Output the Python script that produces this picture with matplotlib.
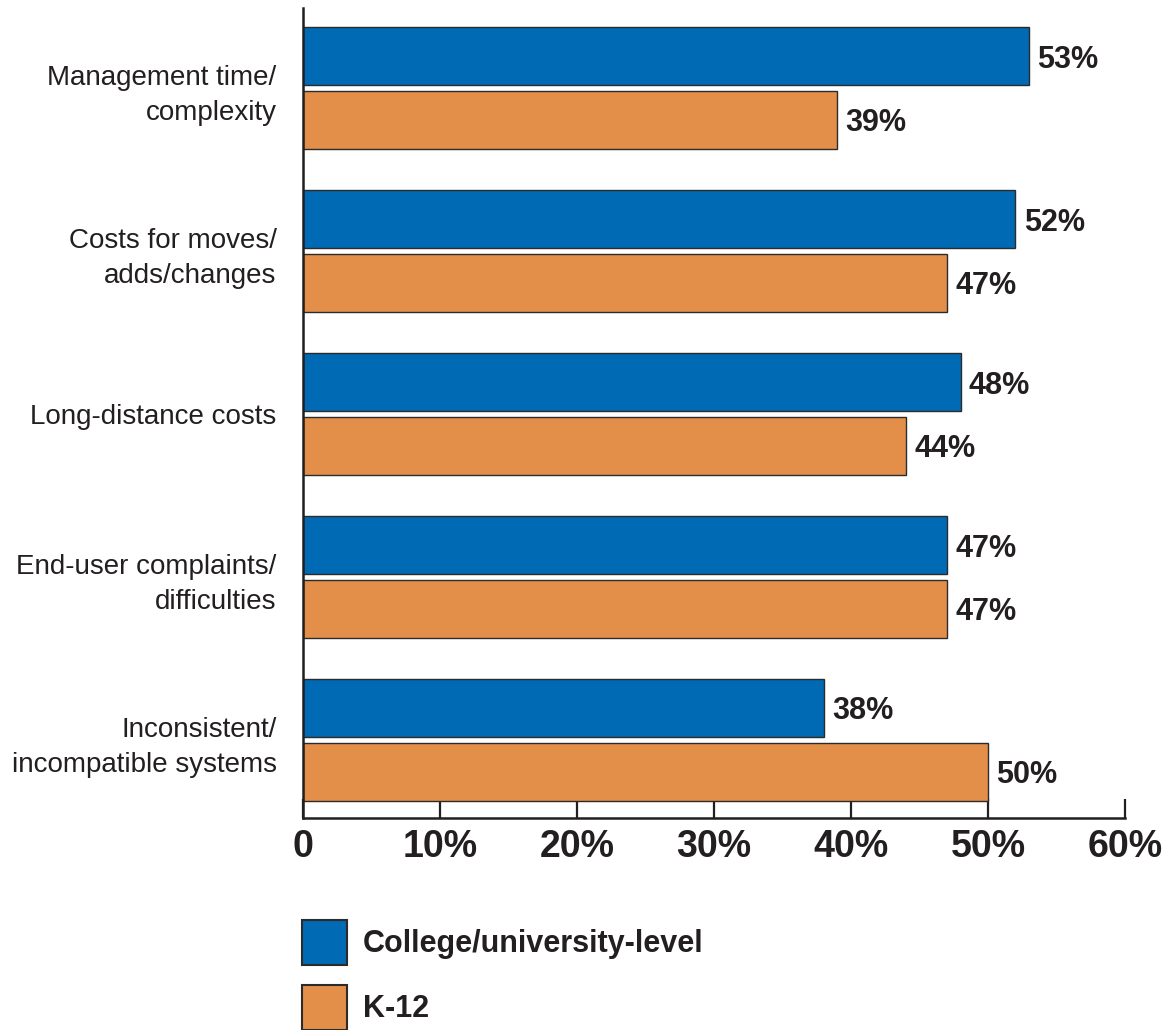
import matplotlib
matplotlib.use("Agg")
import matplotlib.pyplot as plt
from matplotlib.patches import Rectangle

categories = ["Management time/\ncomplexity", "Costs for moves/\nadds/changes",
              "Long-distance costs", "End-user complaints/\ndifficulties",
              "Inconsistent/\nincompatible systems"]
college = [53, 52, 48, 47, 38]
k12 = [39, 47, 44, 47, 50]
xticks = [0, 10, 20, 30, 40, 50, 60]
xticklabels = ["0", "10%", "20%", "30%", "40%", "50%", "60%"]
series_names = ["College/university-level", "K-12"]

blue = "#006AB5"
orange = "#E38F4A"
ink = "#231F20"

plt.rcParams["font.family"] = ["Liberation Sans", "DejaVu Sans"]

fig = plt.figure(figsize=(11.74, 10.30), dpi=100)
W, H = 1174, 1030
ax = fig.add_axes([303 / W, 1 - 818 / H, (1125 - 303) / W, (818 - 8) / H])

pos = list(range(len(categories)))
h = 0.356
off = 0.196
ax.barh([p - off for p in pos], college, height=h, color=blue,
        edgecolor="#2b2b2b", linewidth=1.0, zorder=2)
ax.barh([p + off for p in pos], k12, height=h, color=orange,
        edgecolor="#2b2b2b", linewidth=1.0, zorder=2)

for p, v in zip(pos, college):
    ax.text(v + 0.6, p - off, f"{v}%", va="center_baseline", ha="left",
            fontsize=22, fontweight="bold", color=ink)
for p, v in zip(pos, k12):
    ax.text(v + 0.6, p + off, f"{v}%", va="center_baseline", ha="left",
            fontsize=22, fontweight="bold", color=ink)

ax.set_xlim(0, 60)
ax.set_ylim(4 + 0.479, -0.491)
ax.set_xticks(xticks, xticklabels)
ax.set_yticks(pos, categories)

ax.tick_params(axis="x", direction="in", length=13.5, width=1.6, color=ink,
               labelsize=27, pad=8, labelcolor=ink)
for lbl in ax.get_xticklabels():
    lbl.set_fontweight("bold")
ax.tick_params(axis="y", length=0, pad=19, labelsize=20, labelcolor=ink)
for lbl in ax.get_yticklabels():
    lbl.set_linespacing(1.45)

for s in ["top", "right"]:
    ax.spines[s].set_visible(False)
for s in ["left", "bottom"]:
    ax.spines[s].set_color(ink)
    ax.spines[s].set_linewidth(1.8)

# legend drawn as boxes + labels below the axis
for i, (name, col) in enumerate(zip(series_names, [blue, orange])):
    y0 = 920 + i * 65
    fig.add_artist(Rectangle((302 / W, 1 - (y0 + 45) / H), 45 / W, 45 / H,
                             transform=fig.transFigure, facecolor=col,
                             edgecolor="#2b2b2b", linewidth=1.5))
    fig.text(363 / W, 1 - (y0 + 24) / H, name, ha="left", va="center",
             fontsize=22, fontweight="bold", color=ink)

fig.savefig("out.png", facecolor="w", edgecolor="w")
